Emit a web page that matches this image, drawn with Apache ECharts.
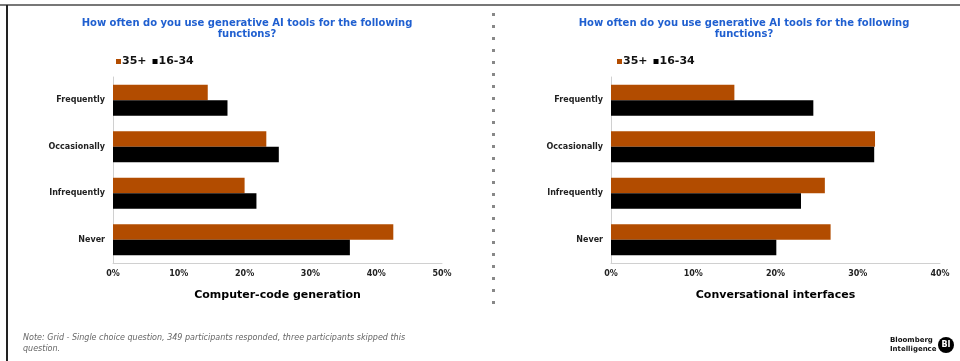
<!DOCTYPE html>
<html>
<head>
<meta charset="utf-8">
<script src="https://cdn.jsdelivr.net/npm/echarts@6/dist/echarts.min.js"></script>
<style>
html,body{margin:0;padding:0;background:#fff;}
#c{width:960px;height:361px;}
</style>
</head>
<body>
<div id="c"></div>
<script>
const categories = ['Frequently', 'Occasionally', 'Infrequently', 'Never'];
const seriesNames = ['35+', '16-34'];
const codeOlder = [14.4, 23.3, 20.0, 42.6];
const codeYounger = [17.4, 25.2, 21.8, 36.0];
const convOlder = [15.0, 32.1, 26.0, 26.7];
const convYounger = [24.6, 32.0, 23.1, 20.1];
const leftTicks = [0, 10, 20, 30, 40, 50];
const rightTicks = [0, 10, 20, 30, 40];
const titleText = 'How often do you use generative AI tools for the following\nfunctions?';
const leftName = 'Computer-code generation';
const rightName = 'Conversational interfaces';
const noteText = 'Note: Grid - Single choice question, 349 participants responded, three participants skipped this\nquestion.';

const ORANGE = '#B24C00';
const BLACK = '#000000';
const FONT = 'DejaVu Sans';

const chart = echarts.init(document.getElementById('c'), null, {renderer: 'canvas'});

function xAxisCfg(gridIndex, ticks, name) {
  return {
    type: 'value', gridIndex: gridIndex,
    min: ticks[0], max: ticks[ticks.length - 1], interval: ticks[1] - ticks[0],
    axisLine: {show: true, lineStyle: {color: '#d0d0d0', width: 1}},
    axisTick: {show: false},
    splitLine: {show: false},
    axisLabel: {formatter: v => v + '%', fontFamily: FONT, fontWeight: 'bold', fontSize: 8, color: '#222', margin: 7},
    name: name, nameLocation: 'middle', nameGap: 27,
    nameTextStyle: {fontFamily: FONT, fontWeight: 'bold', fontSize: 11, color: '#000'}
  };
}
function yAxisCfg(gridIndex) {
  return {
    type: 'category', gridIndex: gridIndex, data: categories, inverse: true,
    axisLine: {show: true, lineStyle: {color: '#d0d0d0', width: 1}},
    axisTick: {show: false},
    axisLabel: {fontFamily: FONT, fontWeight: 'bold', fontSize: 8, color: '#222', margin: 8}
  };
}
function barSeries(name, data, color, idx) {
  return {
    name: name, type: 'bar', xAxisIndex: idx, yAxisIndex: idx, data: data,
    itemStyle: {color: color}, barGap: '0%', barCategoryGap: '33%'
  };
}
function legendCfg(left) {
  return {left: left, top: 56, padding: 0, icon: 'rect', itemWidth: 5, itemHeight: 5, itemGap: 6,
    data: seriesNames,
    textStyle: {fontFamily: FONT, fontWeight: 'bold', fontSize: 11, color: '#111', padding: [0, 0, 0, -4]}};
}

const dots = [];
for (let y = 14; y <= 303; y += 12) {
  dots.push({type: 'rect', shape: {x: 492, y: y - 1, width: 3, height: 3}, style: {fill: '#888'}, silent: true});
}

chart.setOption({
  animation: false,
  title: [
    {text: titleText, left: 242, top: 13, textAlign: 'center',
     textStyle: {fontFamily: FONT, fontWeight: 'bold', fontSize: 10, color: '#1F5FD0', lineHeight: 11, align: 'center'}},
    {text: titleText, left: 739, top: 13, textAlign: 'center',
     textStyle: {fontFamily: FONT, fontWeight: 'bold', fontSize: 10, color: '#1F5FD0', lineHeight: 11, align: 'center'}}
  ],
  legend: [legendCfg(116), legendCfg(617)],
  color: [ORANGE, BLACK],
  grid: [
    {left: 113, top: 77, width: 329, height: 186},
    {left: 611, top: 77, width: 329, height: 186}
  ],
  xAxis: [xAxisCfg(0, leftTicks, leftName), xAxisCfg(1, rightTicks, rightName)],
  yAxis: [yAxisCfg(0), yAxisCfg(1)],
  series: [
    barSeries(seriesNames[0], codeOlder, ORANGE, 0),
    barSeries(seriesNames[1], codeYounger, BLACK, 0),
    barSeries(seriesNames[0], convOlder, ORANGE, 1),
    barSeries(seriesNames[1], convYounger, BLACK, 1)
  ],
  graphic: [
    {type: 'rect', shape: {x: 0, y: 4, width: 960, height: 2}, style: {fill: '#777'}, silent: true},
    {type: 'rect', shape: {x: 6, y: 5, width: 2, height: 356}, style: {fill: '#222'}, silent: true},
    ...dots,
    {type: 'text', left: 23, top: 332, silent: true,
     style: {text: noteText, fontFamily: FONT, fontStyle: 'italic', fontSize: 8, lineHeight: 11, fill: '#666'}},
    {type: 'text', left: 890, top: 336, silent: true,
     style: {text: 'Bloomberg\nIntelligence', fontFamily: FONT, fontWeight: 'bold', fontSize: 7, lineHeight: 9, fill: '#111'}},
    {type: 'circle', shape: {cx: 946, cy: 345, r: 8}, style: {fill: '#000'}, silent: true},
    {type: 'text', x: 946, y: 345, silent: true,
     style: {text: 'BI', fontFamily: FONT, fontWeight: 'bold', fontSize: 8, fill: '#fff', align: 'center', verticalAlign: 'middle'}}
  ]
});
</script>
</body>
</html>
